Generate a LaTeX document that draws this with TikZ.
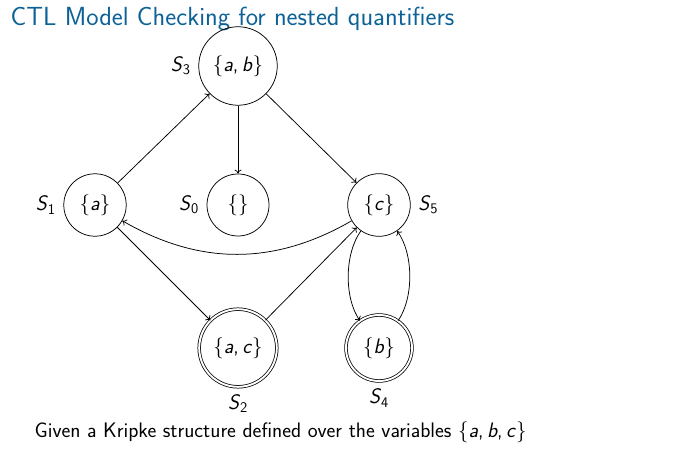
\documentclass[tikz,border=0pt]{standalone}
\usepackage{fontspec}
\usetikzlibrary{arrows.meta}
\renewcommand{\familydefault}{\sfdefault}
\definecolor{titleblue}{RGB}{12,98,150}
\newcommand{\sname}[1]{\textit{S}\textsubscript{#1}}
\newcommand{\vv}[1]{\textit{#1}}

\begin{document}
\begin{tikzpicture}[x=1pt,y=1pt,>={To[length=4pt,width=7pt]},line width=0.75pt,
	state/.style={draw,circle,minimum size=62pt,inner sep=9pt,font=\fontsize{21}{25}\selectfont},
	final/.style={state,double,double distance=1.9pt,minimum size=66pt},
	every label/.style={font=\fontsize{21}{25}\selectfont,label distance=4pt}]

	\useasboundingbox (0,0) rectangle (697,453);

	\node[anchor=base west,text=titleblue,font=\fontsize{26.2}{30}\selectfont] (title) at (7,427) {CTL Model Checking for nested quantifiers};

	\node[state,label=left:\sname{3}]  (s3) at (238,387) {\{\vv{a},\,\vv{b}\}};
	\node[state,label=left:\sname{1}]  (s1) at (95,248)  {\{\vv{a}\}};
	\node[state,label=left:\sname{0}]  (s0) at (238,248) {\{\}};
	\node[state,label=right:\sname{5}] (s5) at (379,248) {\{\vv{c}\}};
	\node[final,label=below:\sname{2}] (s2) at (238,105) {\{\vv{a},\,\vv{c}\}};
	\node[final,label=below:\sname{4}] (s4) at (379,105) {\{\vv{b}\}};

	\draw[->] (s1) -- (s3);
	\draw[->] (s3) -- (s0);
	\draw[->] (s3) -- (s5);
	\draw[->] (s5) to[bend left=30] (s1);
	\draw[->] (s1) -- (s2);
	\draw[->] (s2) -- (s5);
	\draw[->] (s5) to[bend right=35,looseness=0.8] (s4);
	\draw[->] (s4) to[bend right=35,looseness=0.8] (s5);

	\node[anchor=base west,font=\fontsize{21}{25}\selectfont] (text) at (31,16) {Given a Kripke structure defined over the variables \{\vv{a},\,\vv{b},\,\vv{c}\}};

\end{tikzpicture}
\end{document}
